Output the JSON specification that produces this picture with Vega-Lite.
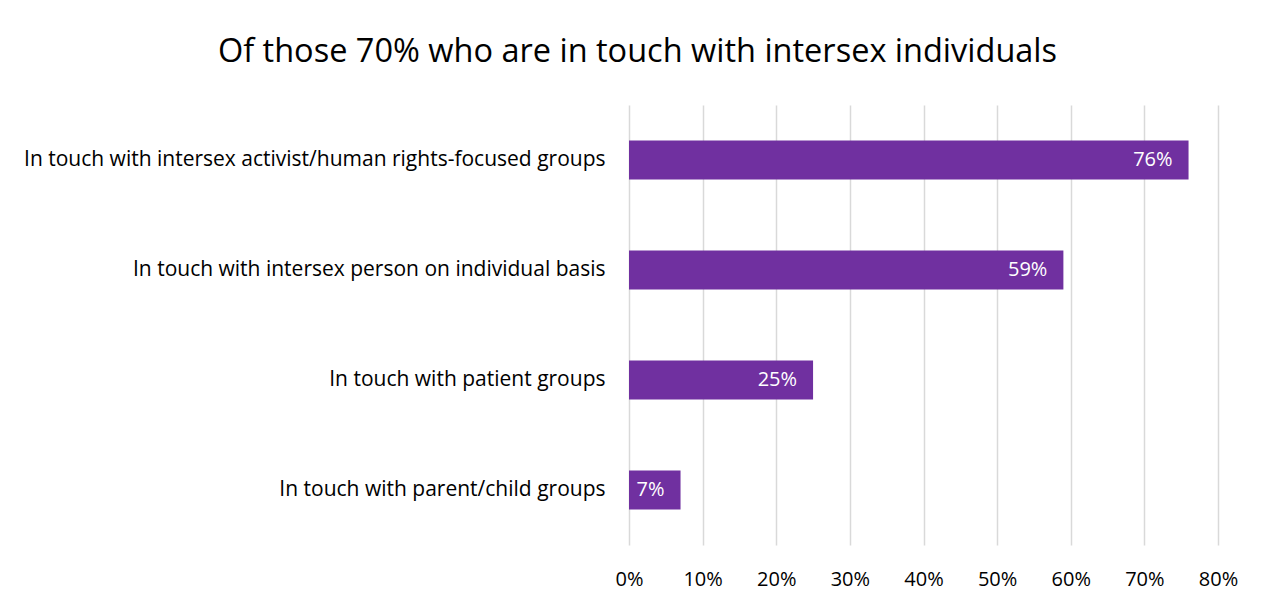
{
  "$schema": "https://vega.github.io/schema/vega-lite/v6.json",
  "autosize": "none",
  "width": 589,
  "height": 440,
  "padding": {"left": 629, "top": 105, "right": 48, "bottom": 60},
  "background": "white",
  "title": {
    "text": "Of those 70% who are in touch with intersex individuals",
    "font": "Open Sans",
    "fontSize": 32.5,
    "fontWeight": "normal",
    "color": "#000000",
    "anchor": "middle",
    "dx": -286,
    "offset": 37
  },
  "data": {
    "values": [
      {"category": "In touch with intersex activist/human rights-focused groups", "value": 0.76},
      {"category": "In touch with intersex person on individual basis", "value": 0.59},
      {"category": "In touch with patient groups", "value": 0.25},
      {"category": "In touch with parent/child groups", "value": 0.07}
    ]
  },
  "config": {
    "view": {"stroke": null},
    "font": "Open Sans"
  },
  "encoding": {
    "y": {
      "field": "category",
      "type": "nominal",
      "sort": null,
      "title": null,
      "scale": {"paddingInner": 0.645, "paddingOuter": 0.3225},
      "axis": {
        "domain": false,
        "ticks": false,
        "labelFontSize": 21,
        "labelColor": "#000000",
        "labelPadding": 24,
        "labelLimit": 700,
        "labelFont": "Open Sans"
      }
    },
    "x": {
      "field": "value",
      "type": "quantitative",
      "title": null,
      "scale": {"domain": [0, 0.8], "nice": false},
      "axis": {
        "format": ".0%",
        "values": [0, 0.1, 0.2, 0.3, 0.4, 0.5, 0.6, 0.7, 0.8],
        "domain": false,
        "ticks": false,
        "grid": true,
        "gridColor": "#d9d9d9",
        "gridWidth": 1.5,
        "labelFlush": false,
        "labelFontSize": 20,
        "labelColor": "#000000",
        "labelPadding": 24,
        "labelFont": "Open Sans"
      }
    }
  },
  "layer": [
    {"mark": {"type": "bar", "color": "#7030A0"}},
    {
      "mark": {"type": "text", "align": "right", "dx": -16, "color": "white", "fontSize": 20, "font": "Open Sans", "baseline": "middle"},
      "encoding": {"text": {"field": "value", "type": "quantitative", "format": ".0%"}}
    }
  ]
}
